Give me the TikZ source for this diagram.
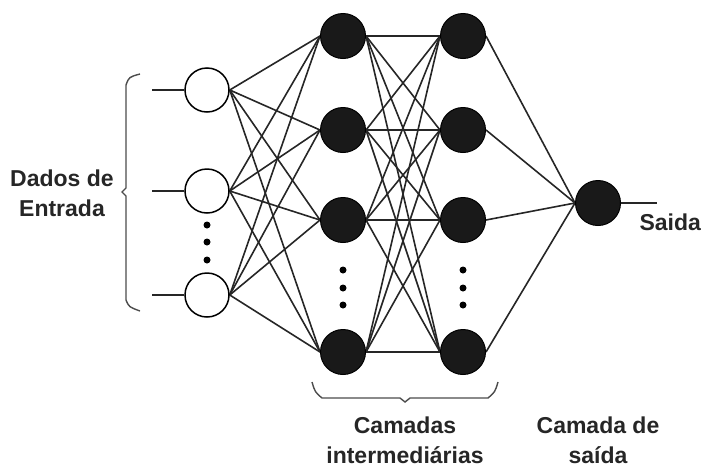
\documentclass[tikz,border=0pt]{standalone}
\usepackage{fontspec}
\setmainfont{Liberation Sans}
\usetikzlibrary{backgrounds}
\begin{document}
\begin{tikzpicture}[x=1pt,y=-1pt,
  inp/.style={circle,draw=black,line width=1.5pt,fill=white,minimum size=44pt,inner sep=0pt},
  hid/.style={circle,draw=black,line width=1pt,fill=black!90,minimum size=45pt,inner sep=0pt},
  conn/.style={line width=1.6pt,black!85},
  brk/.style={line width=1.4pt,black!70},
  lbl/.style={font=\bfseries\fontsize{23}{30}\selectfont,text=black!85,align=center},
  dot/.style={circle,fill=black,inner sep=0pt,minimum size=7pt}]
\useasboundingbox (0,0) rectangle (703,469);
% input nodes
\node[inp] (i1) at (207,90) {};
\node[inp] (i2) at (207,191) {};
\node[inp] (i3) at (207,295) {};
% hidden 1
\node[hid] (a1) at (343,36) {};
\node[hid] (a2) at (343,130) {};
\node[hid] (a3) at (343,220) {};
\node[hid] (a4) at (343,352) {};
% hidden 2
\node[hid] (b1) at (463,36) {};
\node[hid] (b2) at (463,130) {};
\node[hid] (b3) at (463,220) {};
\node[hid] (b4) at (463,352) {};
% output
\node[hid] (o) at (598,203) {};
% connections
\begin{scope}[on background layer]
\foreach \i in {1,2,3}{\foreach \a in {1,2,3,4}{\draw[conn] (i\i.east) -- (a\a.west);}}
\foreach \a in {1,2,3,4}{\foreach \b in {1,2,3,4}{\draw[conn] (a\a.east) -- (b\b.west);}}
\foreach \b in {1,2,3,4}{\draw[conn] (b\b.east) -- (o.west);}
\end{scope}
% input lines
\coordinate (x1) at (152,90);
\coordinate (x2) at (152,191);
\coordinate (x3) at (152,295);
\foreach \k in {1,2,3}{\draw[conn] (x\k) -- (i\k.west);}
% output line
\coordinate (y) at (657,203);
\draw[conn] (o.east) -- (y);
% dots
\foreach \yy in {225,242,260}{\node[dot] at (207,\yy) {};}
\foreach \yy in {270,288,305}{\node[dot] at (343,\yy) {}; \node[dot] at (463,\yy) {};}
% left bracket
\draw[brk] (140,74) .. controls (129,77) .. (126,85) -- (126,188) -- (122,192) -- (126,196) -- (126,300) .. controls (129,307) .. (140,311);
% bottom bracket
\draw[brk] (312,382) .. controls (315,392) .. (322,398) -- (400,398) -- (405,402) -- (410,398) -- (488,398) .. controls (495,392) .. (498,382);
% labels
\node[lbl] (t1) at (62,193) {Dados de\\Entrada};
\node[lbl] (t2) at (405,440) {Camadas\\intermediárias};
\node[lbl] (t3) at (598,440) {Camada de\\saída};
\node[lbl,anchor=west] (t4) at (636,222) {Saida};
\end{tikzpicture}
\end{document}
